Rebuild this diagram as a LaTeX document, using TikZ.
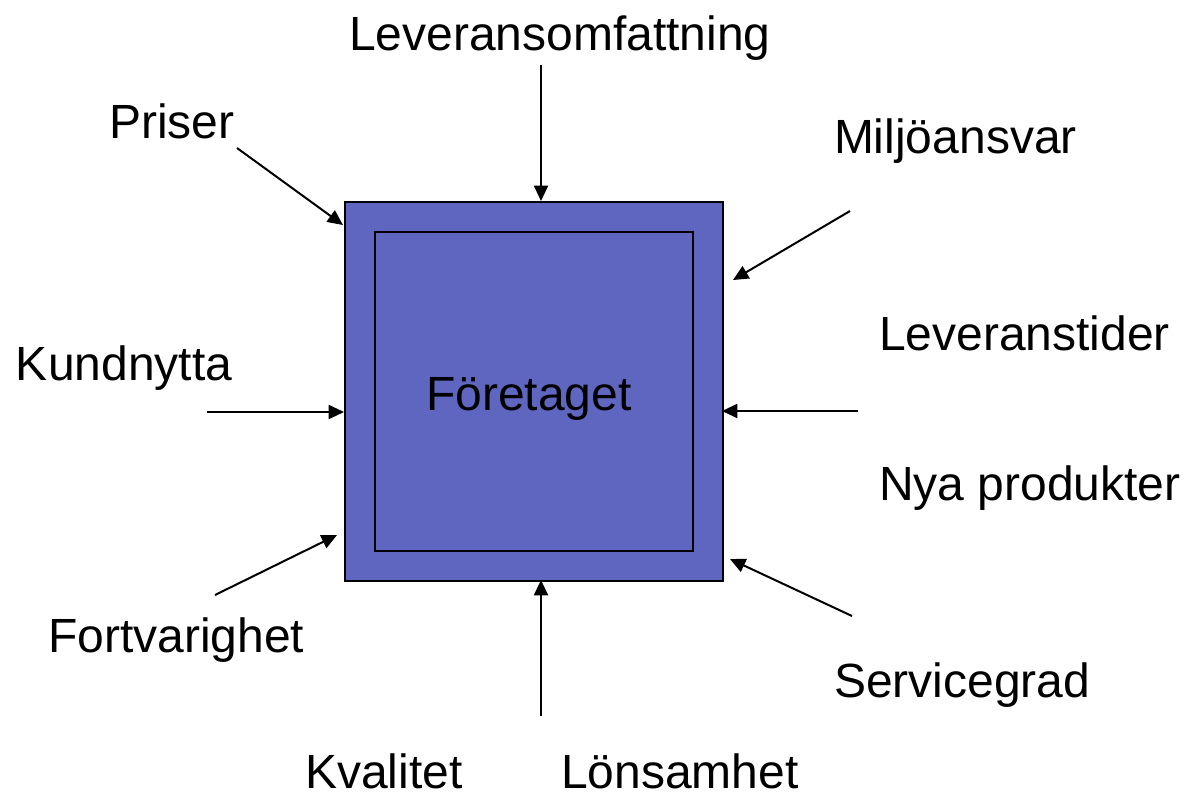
\documentclass[tikz,border=0pt]{standalone}
\usepackage{fontspec}
\setmainfont{Liberation Sans}
\usepackage{tikz}
\usetikzlibrary{arrows.meta}
\definecolor{boxblue}{RGB}{94, 102, 192}
\tikzset{every picture/.style={line width=1.5pt}}
\tikzset{
  lbl/.style={anchor=base west, inner sep=0pt, font=\fontsize{36}{43}\selectfont},
  pil/.style={-{Triangle[length=11.5pt,width=10.5pt]}, line width=1.5pt}
}

\begin{document}
\begin{tikzpicture}[x=0.75pt,y=0.75pt,yscale=-1,xscale=1]
\useasboundingbox (0,0) rectangle (1186,794);

%Shape: outer square
\node (foretag) [draw, fill=boxblue, minimum width=283.5pt, minimum height=284.25pt, inner sep=0pt, anchor=north west] at (344,201) {};
%Shape: inner square
\node (inre) [draw, minimum width=238.5pt, minimum height=239.25pt, inner sep=0pt, anchor=north west] at (374,231) {};

% Text Nodes
\node (leveransomf) [lbl] at (348,50) {Leveransomfattning};
\node (priser) [lbl] at (108,138) {Priser};
\node (miljo) [lbl] at (833,153) {Miljöansvar};
\node (levtider) [lbl] at (878,350) {Leveranstider};
\node (kundnytta) [lbl] at (15,380) {Kundnytta};
\node (foretaget) [lbl] at (425,410) {Företaget};
\node (nyaprod) [lbl] at (878,500) {Nya produkter};
\node (fortvar) [lbl] at (47,652) {Fortvarighet};
\node (service) [lbl] at (833,697) {Servicegrad};
\node (kvalitet) [lbl] at (304,788) {Kvalitet};
\node (lonsamhet) [lbl] at (560,788) {Lönsamhet};

% arrow ends
\coordinate (priserS) at (237,148);
\coordinate (priserE) at (343,225);
\coordinate (toppS) at (541,65);
\coordinate (toppE) at (541,201);
\coordinate (miljoS) at (850,211);
\coordinate (miljoE) at (733,280);
\coordinate (kundS) at (207,412);
\coordinate (kundE) at (344,412);
\coordinate (hogerS) at (858,411);
\coordinate (hogerE) at (722,411);
\coordinate (fortS) at (215,595);
\coordinate (fortE) at (337,535);
\coordinate (servS) at (852,616);
\coordinate (servE) at (730,559);
\coordinate (bottenS) at (541,716);
\coordinate (bottenE) at (541,580);

%Arrows
\draw [pil] (priserS) -- (priserE);
\draw [pil] (toppS) -- (toppE);
\draw [pil] (miljoS) -- (miljoE);
\draw [pil] (kundS) -- (kundE);
\draw [pil] (hogerS) -- (hogerE);
\draw [pil] (fortS) -- (fortE);
\draw [pil] (servS) -- (servE);
\draw [pil] (bottenS) -- (bottenE);

\end{tikzpicture}
\end{document}
